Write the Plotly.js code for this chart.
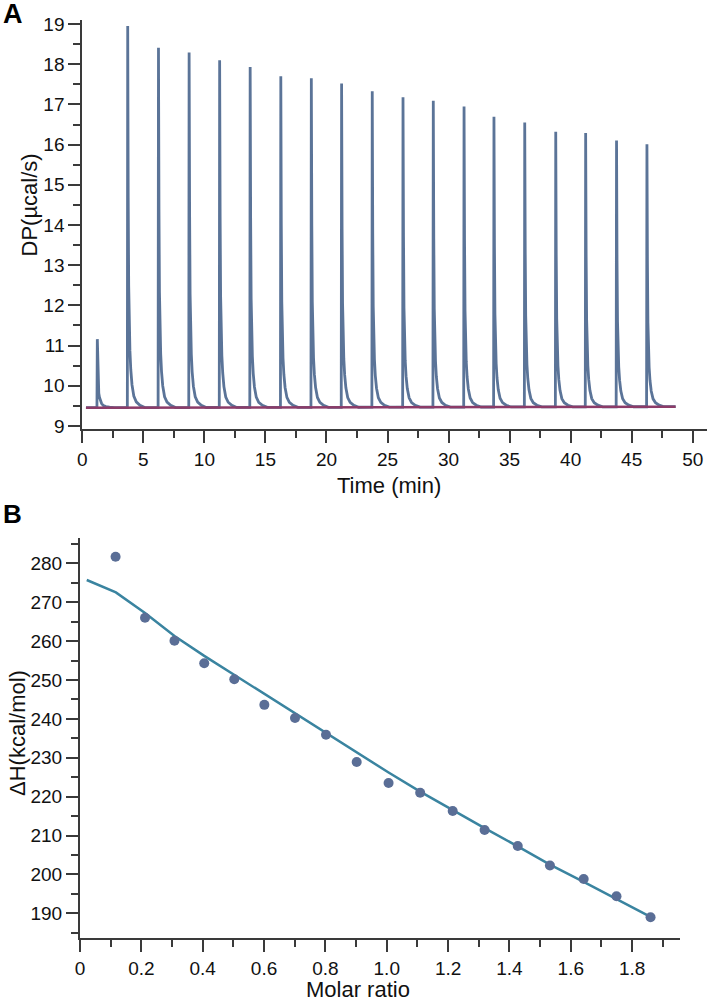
<!DOCTYPE html>
<html>
<head>
<meta charset="utf-8">
<script src="https://cdn.plot.ly/plotly-3.0.1.min.js"></script>
<style>
html,body{margin:0;padding:0;background:#fff;}
#chart{width:708px;height:1001px;}
</style>
</head>
<body>
<div id="chart"></div>
<script>
// ---------- Panel A: raw thermogram ----------
const injTimes = [1.23, 3.72, 6.24, 8.75, 11.25, 13.75, 16.26, 18.76, 21.24, 23.75, 26.27, 28.75, 31.27, 33.72, 36.24, 38.78, 41.23, 43.76, 46.25];
const peakTops = [11.16, 18.95, 18.41, 18.29, 18.10, 17.93, 17.70, 17.65, 17.52, 17.33, 17.18, 17.09, 16.95, 16.69, 16.55, 16.32, 16.29, 16.10, 16.01];
// shape of one injection peak: minutes after the top, share of the height left
const decayOffsets = [0, 0.04, 0.08, 0.12, 0.18, 0.25, 0.35, 0.5, 0.7, 1.0, 1.4];
const decayFractions = [1, 0.55, 0.32, 0.21, 0.15, 0.10, 0.06, 0.03, 0.015, 0.006, 0];
const baselineTime = [0.3, 48.6];
const baselineDP = [9.455, 9.48];

// ---------- Panel B: integrated heats ----------
const molarRatio = [0.116, 0.212, 0.308, 0.405, 0.503, 0.601, 0.701, 0.802, 0.902, 1.006, 1.109, 1.215, 1.319, 1.427, 1.532, 1.642, 1.749, 1.860];
const deltaH = [281.7, 266.0, 260.1, 254.3, 250.2, 243.6, 240.2, 235.9, 228.9, 223.5, 221.0, 216.3, 211.4, 207.3, 202.3, 198.8, 194.4, 189.0];
const fitRatio = [0.022, 0.117, 0.212, 0.308, 0.405, 0.503, 0.601, 0.701, 0.802, 0.902, 1.006, 1.109, 1.215, 1.319, 1.427, 1.532, 1.642, 1.749, 1.860];
const fitDeltaH = [275.7, 272.5, 267.2, 261.3, 256.2, 251.3, 246.4, 241.5, 236.5, 231.3, 226.2, 221.3, 216.5, 211.9, 207.2, 202.5, 198.1, 193.6, 189.1];

const xTicksA = [0, 5, 10, 15, 20, 25, 30, 35, 40, 45, 50];
const yTicksA = [9, 10, 11, 12, 13, 14, 15, 16, 17, 18, 19];
const xTicksB = [0, 0.2, 0.4, 0.6, 0.8, 1.0, 1.2, 1.4, 1.6, 1.8];
const xTickTextB = ['0', '0.2', '0.4', '0.6', '0.8', '1.0', '1.2', '1.4', '1.6', '1.8'];
const yTicksB = [190, 200, 210, 220, 230, 240, 250, 260, 270, 280];

// build thermogram trace from the values above
function baseAt(t) {
  const f = (t - baselineTime[0]) / (baselineTime[1] - baselineTime[0]);
  return baselineDP[0] + f * (baselineDP[1] - baselineDP[0]);
}
const tT = [baselineTime[0]], tY = [baselineDP[0]];
injTimes.forEach((t0, i) => {
  const b0 = baseAt(t0 - 0.03);
  tT.push(t0 - 0.03); tY.push(b0);
  decayOffsets.forEach((off, k) => {
    const t = t0 + off;
    const b = baseAt(t);
    tT.push(t); tY.push(b + decayFractions[k] * (peakTops[i] - b));
  });
});
tT.push(baselineTime[1]); tY.push(baselineDP[1]);

const W = 708, H = 1001;
const fx = px => px / W;
const fy = py => 1 - py / H;

const axisCol = '#3a3a3a';
const tickFont = {family: 'Liberation Sans, Arial, sans-serif', size: 19, color: '#111'};
const titleFont = {family: 'Liberation Sans, Arial, sans-serif', size: 22, color: '#111'};

const commonAxis = {
  showline: true, linecolor: axisCol, linewidth: 2,
  ticks: 'outside', ticklen: 12, tickwidth: 2, tickcolor: axisCol,
  showgrid: false, zeroline: false, tickfont: tickFont, fixedrange: true
};

const data = [
  {x: tT, y: tY, xaxis: 'x', yaxis: 'y', mode: 'lines', type: 'scatter',
   line: {color: '#5b7498', width: 2.8}, hoverinfo: 'skip'},
  {x: baselineTime, y: baselineDP, xaxis: 'x', yaxis: 'y', mode: 'lines', type: 'scatter',
   line: {color: '#8c3b68', width: 2.5}, hoverinfo: 'skip'},
  {x: fitRatio, y: fitDeltaH, xaxis: 'x2', yaxis: 'y2', mode: 'lines', type: 'scatter',
   line: {color: '#3a84a0', width: 2.5}, hoverinfo: 'skip'},
  {x: molarRatio, y: deltaH, xaxis: 'x2', yaxis: 'y2', mode: 'markers', type: 'scatter',
   marker: {color: '#5a6e96', size: 10}, hoverinfo: 'skip'}
];

const layout = {
  width: W, height: H,
  margin: {l: 0, r: 0, t: 0, b: 0},
  paper_bgcolor: '#fff', plot_bgcolor: '#fff',
  showlegend: false,
  xaxis: Object.assign({}, commonAxis, {
    domain: [fx(82.3), fx(707)], range: [0, 51.17], anchor: 'y',
    tickvals: xTicksA,
    minor: {dtick: 2.5, tick0: 0, ticklen: 7, tickwidth: 2, tickcolor: axisCol, ticks: 'outside', showgrid: false}
  }),
  yaxis: Object.assign({}, commonAxis, {
    domain: [fy(429), fy(20)], range: [8.925, 19.1], anchor: 'x',
    tickvals: yTicksA,
    minor: {dtick: 0.5, tick0: 0, ticklen: 7, tickwidth: 2, tickcolor: axisCol, ticks: 'outside', showgrid: false}
  }),
  xaxis2: Object.assign({}, commonAxis, {
    domain: [fx(80), fx(680)], range: [0, 1.956], anchor: 'y2',
    tickvals: xTicksB, ticktext: xTickTextB,
    minor: {dtick: 0.1, tick0: 0, ticklen: 7, tickwidth: 2, tickcolor: axisCol, ticks: 'outside', showgrid: false}
  }),
  yaxis2: Object.assign({}, commonAxis, {
    domain: [fy(938), fy(537.7)], range: [183.65, 286.58], anchor: 'x2',
    tickvals: yTicksB,
    minor: {dtick: 5, tick0: 0, ticklen: 7, tickwidth: 2, tickcolor: axisCol, ticks: 'outside', showgrid: false}
  }),
  annotations: [
    {text: '<b>A</b>', xref: 'paper', yref: 'paper', x: fx(12.5), y: fy(14), xanchor: 'center', yanchor: 'middle', showarrow: false,
     font: {family: 'Liberation Sans, Arial, sans-serif', size: 27, color: '#000'}},
    {text: '<b>B</b>', xref: 'paper', yref: 'paper', x: fx(12.5), y: fy(514), xanchor: 'center', yanchor: 'middle', showarrow: false,
     font: {family: 'Liberation Sans, Arial, sans-serif', size: 26, color: '#000'}},
    {text: 'DP(µcal/s)', xref: 'paper', yref: 'paper', x: fx(28.5), y: fy(205), xanchor: 'center', yanchor: 'middle', textangle: -90, showarrow: false, font: titleFont},
    {text: 'Time (min)', xref: 'paper', yref: 'paper', x: fx(389), y: fy(485), xanchor: 'center', yanchor: 'middle', showarrow: false, font: titleFont},
    {text: 'ΔH(kcal/mol)', xref: 'paper', yref: 'paper', x: fx(17), y: fy(733), xanchor: 'center', yanchor: 'middle', textangle: -90, showarrow: false, font: titleFont},
    {text: 'Molar ratio', xref: 'paper', yref: 'paper', x: fx(358), y: fy(989), xanchor: 'center', yanchor: 'middle', showarrow: false, font: titleFont}
  ]
};

Plotly.newPlot('chart', data, layout, {displayModeBar: false, staticPlot: true});
</script>
</body>
</html>
